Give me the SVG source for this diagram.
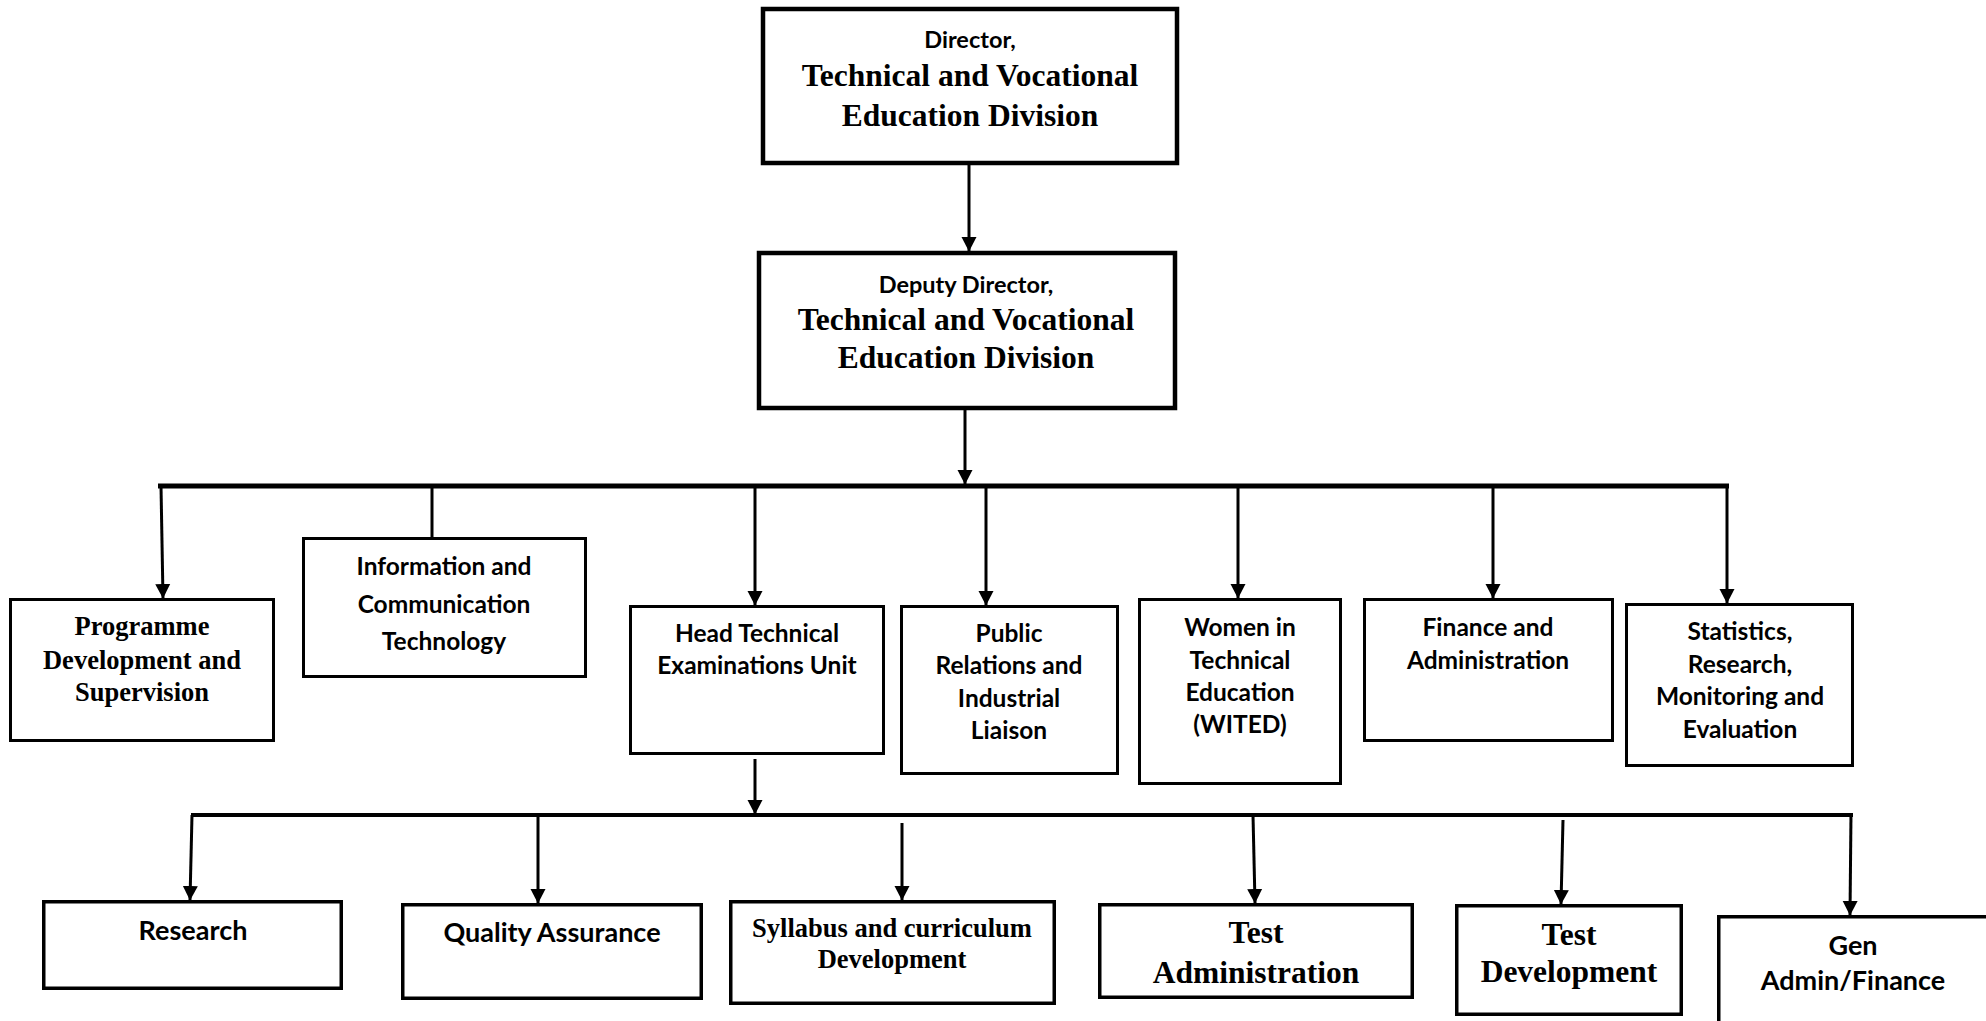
<svg xmlns="http://www.w3.org/2000/svg" width="1986" height="1021" viewBox="0 0 1986 1021">
<style>
.box{fill:#fff;stroke:#000;stroke-width:3}
.big{stroke-width:4.5}
.bot{stroke-width:3.5}
.sans{font-family:Lato,"Open Sans","Liberation Sans",sans-serif;font-weight:bold;fill:#000;text-anchor:middle}
.serif{font-family:"Liberation Serif","Times New Roman",serif;font-weight:bold;fill:#000;text-anchor:middle}
.ln{stroke:#000;stroke-width:3;fill:none}
.bus{stroke:#000;fill:none}
</style>
<defs>
<marker id="ah" markerUnits="userSpaceOnUse" markerWidth="15" markerHeight="16" refX="14" refY="8" orient="auto" viewBox="0 0 15 16">
<path d="M0,0.5 L14.5,8 L0,15.5 z" fill="#000"/>
</marker>
</defs>
<rect width="1986" height="1021" fill="#fff"/>

<g id="connectors">
<line class="ln" x1="969" y1="165" x2="969" y2="251" marker-end="url(#ah)"/>
<line class="ln" x1="965" y1="410" x2="965" y2="484" marker-end="url(#ah)"/>
<line class="bus" x1="158" y1="486" x2="1729" y2="486" stroke-width="5"/>
<line class="ln" x1="161" y1="486" x2="163" y2="598" marker-end="url(#ah)"/>
<line class="ln" x1="432" y1="486" x2="432" y2="538"/>
<line class="ln" x1="755" y1="486" x2="755" y2="605" marker-end="url(#ah)"/>
<line class="ln" x1="986" y1="486" x2="986" y2="605" marker-end="url(#ah)"/>
<line class="ln" x1="1238" y1="486" x2="1238" y2="598" marker-end="url(#ah)"/>
<line class="ln" x1="1493" y1="486" x2="1493" y2="598" marker-end="url(#ah)"/>
<line class="ln" x1="1727" y1="484" x2="1727" y2="603" marker-end="url(#ah)"/>
<line class="ln" x1="755" y1="759" x2="755" y2="814" marker-end="url(#ah)"/>
<line class="bus" x1="191" y1="815" x2="1853" y2="815" stroke-width="4"/>
<line class="ln" x1="192" y1="815" x2="190" y2="900" marker-end="url(#ah)"/>
<line class="ln" x1="538" y1="815" x2="538" y2="903" marker-end="url(#ah)"/>
<line class="ln" x1="902" y1="823" x2="902" y2="900" marker-end="url(#ah)"/>
<line class="ln" x1="1253" y1="815" x2="1255" y2="903" marker-end="url(#ah)"/>
<line class="ln" x1="1563" y1="820" x2="1561" y2="904" marker-end="url(#ah)"/>
<line class="ln" x1="1851" y1="813" x2="1850" y2="915" marker-end="url(#ah)"/>
</g>

<g id="director">
<rect class="box big" x="763" y="9" width="414" height="154"/>
<text class="sans" x="970" y="48" font-size="23.5">Director,</text>
<text class="serif" x="970" y="86" font-size="31.5">Technical and Vocational</text>
<text class="serif" x="970" y="126" font-size="31.5">Education Division</text>
</g>

<g id="deputy">
<rect class="box big" x="759" y="253" width="416" height="155"/>
<text class="sans" x="966" y="293" font-size="23.5">Deputy Director,</text>
<text class="serif" x="966" y="330" font-size="31.5">Technical and Vocational</text>
<text class="serif" x="966" y="368" font-size="31.5">Education Division</text>
</g>

<g id="programme">
<rect class="box" x="10.5" y="599.5" width="263" height="141"/>
<text class="serif" x="142" y="635" font-size="26.5">Programme</text>
<text class="serif" x="142" y="669" font-size="26.5">Development and</text>
<text class="serif" x="142" y="701" font-size="26.5">Supervision</text>
</g>

<g id="ict">
<rect class="box" x="303.5" y="538.5" width="282" height="138"/>
<text class="sans" x="444" y="575" font-size="24.5">Information and</text>
<text class="sans" x="444" y="613" font-size="24.5">Communication</text>
<text class="sans" x="444" y="650" font-size="24.5">Technology</text>
</g>

<g id="head-exams">
<rect class="box" x="630.5" y="606.5" width="253" height="147"/>
<text class="sans" x="757" y="642" font-size="24.5">Head Technical</text>
<text class="sans" x="757" y="674" font-size="24.5">Examinations Unit</text>
</g>

<g id="public-relations">
<rect class="box" x="901.5" y="606.5" width="216" height="167"/>
<text class="sans" x="1009" y="642" font-size="24.5">Public</text>
<text class="sans" x="1009" y="674" font-size="24.5">Relations and</text>
<text class="sans" x="1009" y="707" font-size="24.5">Industrial</text>
<text class="sans" x="1009" y="739" font-size="24.5">Liaison</text>
</g>

<g id="wited">
<rect class="box" x="1139.5" y="599.5" width="201" height="184"/>
<text class="sans" x="1240" y="636" font-size="24.5">Women in</text>
<text class="sans" x="1240" y="669" font-size="24.5">Technical</text>
<text class="sans" x="1240" y="701" font-size="24.5">Education</text>
<text class="sans" x="1240" y="733" font-size="24.5">(WITED)</text>
</g>

<g id="finance">
<rect class="box" x="1364.5" y="599.5" width="248" height="141"/>
<text class="sans" x="1488" y="636" font-size="24.5">Finance and</text>
<text class="sans" x="1488" y="669" font-size="24.5">Administration</text>
</g>

<g id="statistics">
<rect class="box" x="1626.5" y="604.5" width="226" height="161"/>
<text class="sans" x="1740" y="640" font-size="24.5">Statistics,</text>
<text class="sans" x="1740" y="673" font-size="24.5">Research,</text>
<text class="sans" x="1740" y="705" font-size="24.5">Monitoring and</text>
<text class="sans" x="1740" y="738" font-size="24.5">Evaluation</text>
</g>

<g id="research">
<rect class="box bot" x="43.75" y="901.75" width="297.5" height="86.5"/>
<text class="sans" x="193" y="940" font-size="27">Research</text>
</g>

<g id="quality-assurance">
<rect class="box bot" x="402.75" y="904.75" width="298.5" height="93.5"/>
<text class="sans" x="552" y="942" font-size="27">Quality Assurance</text>
</g>

<g id="syllabus">
<rect class="box bot" x="730.75" y="901.75" width="323.5" height="101.5"/>
<text class="serif" x="892" y="937" font-size="26.5">Syllabus and curriculum</text>
<text class="serif" x="892" y="968" font-size="26.5">Development</text>
</g>

<g id="test-administration">
<rect class="box bot" x="1099.75" y="904.75" width="312.5" height="92.5"/>
<text class="serif" x="1256" y="943" font-size="31.5">Test</text>
<text class="serif" x="1256" y="983" font-size="31.5">Administration</text>
</g>

<g id="test-development">
<rect class="box bot" x="1456.75" y="905.75" width="224.5" height="108.5"/>
<text class="serif" x="1569" y="945" font-size="31.5">Test</text>
<text class="serif" x="1569" y="982" font-size="31.5">Development</text>
</g>

<g id="gen-admin">
<rect class="box bot" x="1718.75" y="916.75" width="280" height="120"/>
<text class="sans" x="1853" y="955" font-size="27">Gen</text>
<text class="sans" x="1853" y="990" font-size="27">Admin/Finance</text>
</g>
</svg>
